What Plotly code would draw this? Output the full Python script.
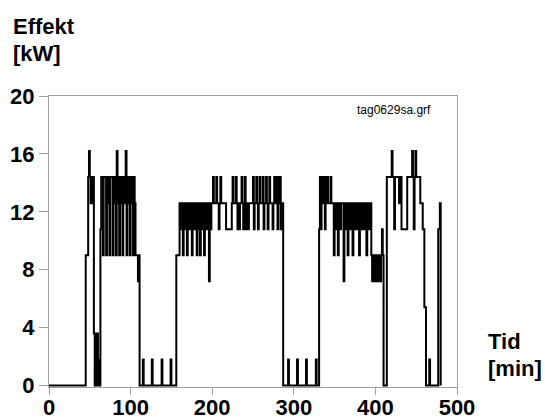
import plotly.graph_objects as go

# Change points of the power step curve: from time t (min) on, the power is p (kW)
change_min = [
    0, 45, 48, 49, 50, 51, 52, 53, 54, 55, 56, 57, 58, 59, 60, 61, 62, 63, 64,
    66, 67, 70, 71, 73, 74, 75, 78, 79, 81, 82, 83, 84, 85, 86, 87, 88, 89, 90,
    91, 92, 93, 94, 95, 96, 97, 98, 99, 100, 101, 102, 103, 104, 105, 106, 109,
    110, 111,
    115, 116, 126, 127, 138, 139, 149, 150, 156,
    160, 161, 162, 163, 164, 165, 166, 167, 168, 169, 170, 171, 172, 173, 174,
    175, 176, 177, 178, 179, 180, 181, 182, 183, 184, 185, 186, 187, 188, 189,
    190, 191, 192, 193, 194, 195, 196, 197, 198, 199,
    201, 202, 205, 206, 208, 209, 210, 211, 217, 224, 225, 226, 229, 230, 231,
    232, 233, 234, 236, 237, 238, 239, 240, 241, 242, 244, 245, 250, 251, 252,
    254, 255, 256, 257, 258, 259, 262, 263, 264, 266, 267, 268, 269, 270, 271,
    274, 275, 276, 277, 278, 279, 280, 281, 282, 283, 284, 285, 287,
    293, 294, 304, 305, 315, 316, 327, 328, 331,
    332, 333, 334, 335, 336, 337, 338, 339, 340, 341, 342, 345, 346, 349, 350,
    351, 352, 354, 355, 357, 358, 361, 362, 364, 365, 366, 367, 369, 370, 372,
    373, 375, 376, 378, 379, 380, 381, 382, 383, 384, 385, 386, 387, 388, 389,
    390, 391, 392, 393, 394, 395, 396, 397, 398, 399, 400, 401, 402, 403, 404,
    405, 406, 407, 408, 409, 410,
    414, 420, 421, 423, 424, 429, 430, 432, 439, 445, 446, 447, 448, 449, 450,
    455, 458, 460, 462, 466, 467, 477, 479, 480,
]
power_kw = [
    0, 9.0, 14.4, 16.2, 14.4, 12.6, 14.4, 12.6, 14.4, 3.6, 0, 3.6, 0, 3.6, 0, 1.8, 0, 10.8, 14.4,
    9.0, 14.4, 9.0, 14.4, 12.6, 9.0, 14.4, 9.0, 14.4, 12.6, 9.0, 16.2, 14.4, 12.6, 9.0, 14.4, 12.6, 14.4, 9.0,
    12.6, 14.4, 12.6, 16.2, 9.0, 14.4, 12.6, 14.4, 9.0, 12.6, 14.4, 12.6, 9.0, 14.4, 12.6, 9.0, 7.2,
    9.0, 0,
    1.8, 0, 1.8, 0, 1.8, 0, 1.8, 0, 9.0,
    12.6, 10.8, 12.6, 10.8, 9.0, 12.6, 10.8, 12.6, 10.8, 9.0, 12.6, 10.8, 12.6, 10.8, 12.6,
    9.0, 12.6, 10.8, 12.6, 10.8, 12.6, 9.0, 12.6, 10.8, 12.6, 9.0, 12.6, 10.8, 12.6, 10.8,
    9.0, 12.6, 10.8, 12.6, 10.8, 12.6, 7.2, 12.6, 10.8, 12.6,
    14.4, 12.6, 14.4, 12.6, 10.8, 12.6, 14.4, 12.6, 10.8, 12.6, 14.4, 12.6, 14.4, 12.6, 10.8,
    12.6, 10.8, 12.6, 14.4, 12.6, 10.8, 12.6, 14.4, 10.8, 12.6, 10.8, 12.6, 14.4, 10.8, 12.6,
    14.4, 12.6, 10.8, 12.6, 14.4, 12.6, 14.4, 10.8, 12.6, 14.4, 12.6, 10.8, 12.6, 14.4, 12.6,
    10.8, 12.6, 14.4, 12.6, 14.4, 12.6, 10.8, 14.4, 12.6, 14.4, 10.8, 12.6, 0,
    1.8, 0, 1.8, 0, 1.8, 0, 1.8, 0, 10.8,
    14.4, 10.8, 14.4, 12.6, 14.4, 12.6, 10.8, 14.4, 12.6, 14.4, 12.6, 14.4, 12.6, 9.0, 12.6,
    10.8, 12.6, 9.0, 12.6, 10.8, 12.6, 7.2, 12.6, 10.8, 12.6, 9.0, 12.6, 10.8, 12.6, 9.0,
    12.6, 10.8, 12.6, 10.8, 12.6, 9.0, 12.6, 10.8, 12.6, 10.8, 12.6, 10.8, 12.6, 10.8, 9.0,
    12.6, 10.8, 12.6, 10.8, 12.6, 9.0, 7.2, 9.0, 7.2, 9.0, 7.2, 9.0, 7.2, 9.0, 7.2,
    9.0, 7.2, 9.0, 10.8, 9.0, 0,
    14.4, 16.2, 14.4, 10.8, 14.4, 12.6, 14.4, 10.8, 14.4, 16.2, 14.4, 10.8, 14.4, 16.2, 14.4,
    12.6, 10.8, 5.4, 0, 1.8, 0, 10.8, 12.6, 0,
]

x_ticks = [0, 100, 200, 300, 400, 500]
y_ticks = [0, 4, 8, 12, 16, 20]

FONT = "Liberation Sans, Arial, sans-serif"
GRAY = "#a0a0a0"

fig = go.Figure(
    go.Scatter(
        x=change_min, y=power_kw, mode="lines",
        line=dict(shape="hv", color="black", width=2),
        hoverinfo="x+y",
    )
)

axis_common = dict(
    showgrid=False, zeroline=False, showline=True, linecolor=GRAY, linewidth=1,
    mirror=True, ticks="outside", tickcolor=GRAY, tickwidth=1, automargin=False,
    tickfont=dict(family=FONT, size=22, color="black", weight="bold"),
)

fig.update_xaxes(range=[0, 500], tickvals=x_ticks, ticklen=7,
                 ticklabelstandoff=-6, **axis_common)
fig.update_yaxes(range=[-0.1, 20], tickvals=y_ticks, ticklen=9, **axis_common)

def label(text, x, y, size=22, bold=True, xanchor="left"):
    fig.add_annotation(
        text=f"<b>{text}</b>" if bold else text, xref="paper", yref="paper",
        x=x, y=y, xanchor=xanchor, yanchor="middle", showarrow=False,
        font=dict(family=FONT, size=size, color="black"),
    )

L, W, T, H = 49, 408, 96, 291
px = lambda v: (v - L) / W
py = lambda v: (T + H - v) / H

label("Effekt", px(11), py(27))
label("[kW]", px(11), py(53))
label("Tid", px(486), py(341))
label("[min]", px(486), py(368))
label("tag0629sa.grf", px(433), py(110), size=12, bold=False, xanchor="right")

fig.update_layout(
    width=545, height=419,
    margin=dict(l=L, r=545 - L - W, t=T, b=419 - T - H),
    paper_bgcolor="white", plot_bgcolor="white",
    showlegend=False,
)

fig.write_html(
    "out.html",
    config={"displayModeBar": False},
    post_script="document.body.style.margin='0';document.body.style.padding='0';",
)
